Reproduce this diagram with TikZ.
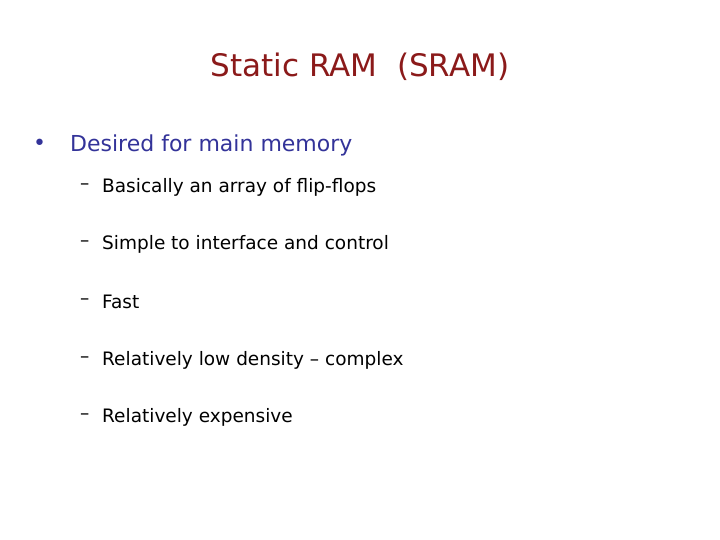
\documentclass[tikz,border=0pt]{standalone}
\usepackage{fontspec}
\setmainfont{DejaVu Sans}
\definecolor{titlered}{HTML}{8B1A1A}
\definecolor{bulletblue}{HTML}{333399}
\begin{document}
\begin{tikzpicture}[x=1pt,y=-1pt,
  mainitem/.style={anchor=west,inner sep=0pt,text=bulletblue,font=\fontsize{22}{26}\selectfont},
  subitem/.style={anchor=west,inner sep=0pt,font=\fontsize{18.5}{22}\selectfont}]
\useasboundingbox[fill=white] (0,0) rectangle (720,540);
%%%%% Title %%%%%
\node[text=titlered,font=\fontsize{31}{36}\selectfont] (title) at (360,67) {Static RAM\ \ (SRAM)};
%%%%% Bullets %%%%%
\node[mainitem] (dot) at (33,145) {\textbullet};
\node[mainitem] (desired) at (70,145) {Desired for main memory};
\foreach \name/\y/\txt in {array/187/{Basically an array of flip-flops},
  simple/244/{Simple to interface and control},
  fast/302/{Fast},
  density/360/{Relatively low density \textendash{} complex},
  cost/417/{Relatively expensive}}{
\node[subitem] (dash\name) at (80,\y) {\textendash};
\node[subitem] (\name) at (102,\y) {\txt};
}
\end{tikzpicture}
\end{document}
